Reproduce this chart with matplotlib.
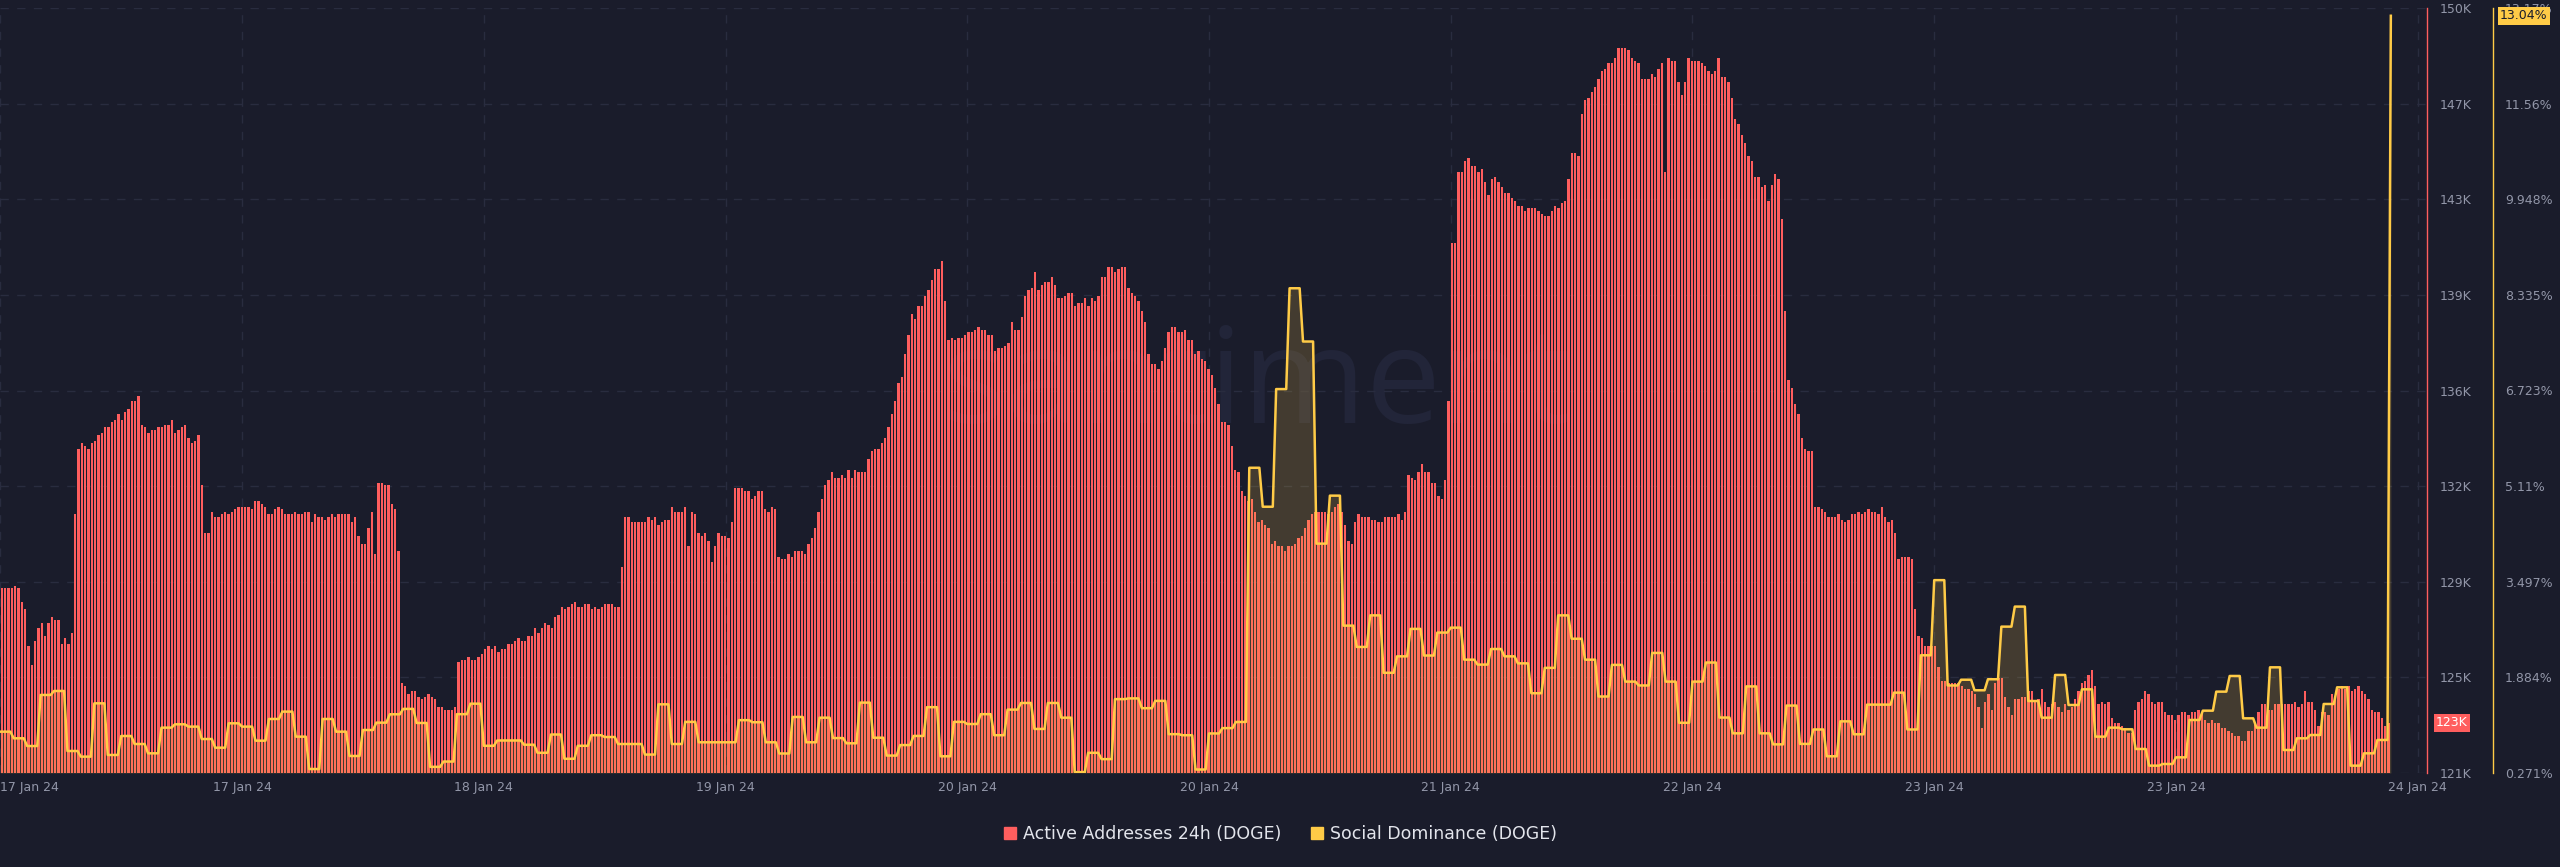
import matplotlib
matplotlib.use("Agg")
import matplotlib.pyplot as plt
import numpy as np
from matplotlib.lines import Line2D
from matplotlib.transforms import blended_transform_factory, ScaledTranslation

### colours ###
BG = "#1a1c2b"
RED = "#ff5e5e"
YELLOW = "#ffcb47"
GRID = "#292c3f"
TXT = "#9296a8"

### Active Addresses 24h (DOGE), thousands, one reading every ~15 min ###
aa_part1 = [128.0, 128.0, 128.0, 128.0, 128.1, 128.0, 127.5, 127.2, 125.8, 125.1,
            126.0, 126.5, 126.7, 126.2, 126.7, 126.9, 126.8, 126.8, 125.9, 126.1,
            125.9, 126.3, 130.8, 133.3, 133.5, 133.4, 133.3, 133.5, 133.6, 133.8,
            133.9, 134.1, 134.1, 134.3, 134.4, 134.6, 134.4, 134.7, 134.8, 135.1,
            135.1, 135.3, 134.2, 134.1, 133.9, 134.0, 134.0, 134.1, 134.1, 134.2,
            134.2, 134.4, 133.9, 134.0, 134.1, 134.2, 133.7, 133.5, 133.6, 133.8,
            131.9, 130.1, 130.1, 130.9, 130.7, 130.7, 130.8, 130.9, 130.8, 130.9,
            131.0, 131.1, 131.1, 131.1, 131.1, 131.0, 131.3, 131.3, 131.2, 131.1,
            130.8, 130.8, 131.0, 131.1, 131.0, 130.8, 130.8, 130.8, 130.9, 130.8,
            130.8, 130.9, 130.9, 130.5, 130.8, 130.7, 130.7, 130.6, 130.7, 130.8,
            130.7, 130.8, 130.8, 130.8, 130.8, 130.5, 130.7, 130.0, 129.7, 129.7,
            130.3, 130.9, 129.3, 132.0, 132.0, 131.9, 131.9, 131.2, 131.0, 129.4]
aa_part2 = [124.4, 124.3, 124.0, 124.1, 124.1, 123.9, 123.8, 123.9, 124.0, 123.9,
            123.8, 123.5, 123.5, 123.4, 123.4, 123.4, 123.5, 125.2, 125.3, 125.3,
            125.4, 125.3, 125.3, 125.4, 125.5, 125.7, 125.8, 125.7, 125.8, 125.6,
            125.7, 125.7, 125.9, 125.9, 126.0, 126.1, 126.0, 126.0, 126.2, 126.2,
            126.5, 126.3, 126.5, 126.7, 126.6, 126.5, 126.9, 127.0, 127.3, 127.2,
            127.3, 127.4, 127.5, 127.3, 127.3, 127.4, 127.4, 127.2, 127.3, 127.2,
            127.3, 127.4, 127.4, 127.4, 127.3, 127.3, 128.8, 130.7, 130.7, 130.5,
            130.5, 130.5, 130.5, 130.5, 130.7, 130.6, 130.7, 130.4, 130.5, 130.6,
            130.6, 131.1, 130.9, 130.9, 130.9, 131.1, 129.6, 130.9, 130.8, 130.1,
            130.0, 130.1, 129.8, 129.0, 129.6, 130.1, 130.0, 130.0, 129.9, 130.5,
            131.8, 131.8, 131.8, 131.7, 131.7, 131.4, 131.5, 131.7, 131.7, 131.0,
            130.9, 131.1, 131.0, 129.2, 129.1, 129.1, 129.3, 129.2, 129.4, 129.4]
aa_part3 = [129.4, 129.3, 129.7, 129.9, 130.3, 130.9, 131.4, 131.9, 132.1, 132.4,
            132.2, 132.2, 132.3, 132.2, 132.5, 132.2, 132.5, 132.4, 132.4, 132.4,
            132.9, 133.2, 133.3, 133.3, 133.5, 133.7, 134.1, 134.6, 135.1, 135.8,
            136.0, 136.9, 137.6, 138.4, 138.2, 138.7, 138.7, 139.1, 139.3, 139.7,
            140.1, 140.1, 140.4, 138.9, 137.4, 137.5, 137.4, 137.5, 137.5, 137.6,
            137.7, 137.7, 137.8, 137.9, 137.8, 137.8, 137.6, 137.6, 137.0, 137.1,
            137.1, 137.2, 137.3, 138.1, 137.8, 137.8, 138.3, 139.1, 139.3, 139.4,
            140.0, 139.3, 139.5, 139.6, 139.6, 139.8, 139.5, 139.0, 139.0, 139.1,
            139.2, 139.2, 138.7, 138.8, 138.8, 139.0, 138.7, 139.0, 138.9, 139.1,
            139.8, 139.8, 140.2, 140.2, 140.0, 140.1, 140.2, 140.2, 139.4, 139.2,
            139.1, 138.9, 138.5, 138.1, 136.9, 136.5, 136.5, 136.3, 136.6, 137.1,
            137.7, 137.9, 137.9, 137.7, 137.7, 137.8, 137.4, 137.4, 136.9, 137.0]
aa_part4 = [136.7, 136.6, 136.3, 136.1, 135.6, 135.0, 134.3, 134.3, 134.2, 133.4,
            132.5, 132.4, 131.7, 131.5, 131.3, 131.4, 130.9, 130.5, 130.6, 130.4,
            130.3, 129.7, 129.8, 129.6, 129.6, 129.4, 129.6, 129.6, 129.7, 129.9,
            130.0, 130.3, 130.6, 130.8, 130.9, 130.9, 130.9, 130.9, 130.8, 130.9,
            131.1, 131.2, 130.9, 130.4, 129.8, 129.7, 130.5, 130.8, 130.7, 130.7,
            130.7, 130.6, 130.6, 130.5, 130.5, 130.7, 130.7, 130.7, 130.7, 130.8,
            130.6, 130.9, 132.3, 132.2, 132.1, 132.4, 132.7, 132.4, 132.4, 132.0,
            132.0, 131.5, 131.4, 132.1, 135.1, 141.1, 141.1, 143.8, 143.8, 144.2,
            144.3, 144.0, 144.0, 143.8, 143.9, 143.4, 142.9, 143.5, 143.6, 143.4,
            143.2, 143.0, 143.0, 142.8, 142.7, 142.5, 142.5, 142.3, 142.4, 142.4,
            142.4, 142.3, 142.2, 142.1, 142.1, 142.3, 142.5, 142.4, 142.6, 142.7,
            143.5, 144.5, 144.5, 144.4, 146.0, 146.5, 146.6, 146.8, 147.0, 147.3]
aa_part5 = [147.6, 147.7, 147.9, 147.9, 148.1, 148.5, 148.5, 148.5, 148.4, 148.1,
            148.0, 147.9, 147.3, 147.3, 147.3, 147.5, 147.4, 147.7, 147.9, 143.8,
            148.1, 148.0, 148.0, 147.2, 146.7, 147.2, 148.1, 148.0, 148.0, 148.0,
            147.9, 147.8, 147.6, 147.5, 147.6, 148.1, 147.4, 147.4, 147.2, 146.6,
            145.8, 145.6, 145.2, 144.9, 144.4, 144.2, 143.6, 143.6, 143.2, 143.3,
            142.7, 143.3, 143.7, 143.5, 142.0, 138.5, 135.9, 135.6, 135.0, 134.6,
            133.7, 133.3, 133.2, 133.2, 131.1, 131.1, 131.0, 130.9, 130.7, 130.7,
            130.7, 130.8, 130.6, 130.5, 130.6, 130.8, 130.8, 130.9, 130.8, 130.9,
            131.0, 130.9, 130.9, 130.8, 131.1, 130.7, 130.5, 130.6, 130.1, 129.1,
            129.2, 129.2, 129.2, 129.1, 127.2, 126.2, 126.1, 125.8, 125.8, 125.8,
            125.8, 125.0, 124.5, 124.5, 124.4, 124.4, 124.4, 124.4, 124.3, 124.2,
            124.2, 124.1, 124.0, 123.5, 122.7, 123.7, 124.0, 123.4, 124.4, 124.6]
aa_part6 = [124.6, 123.9, 123.5, 123.2, 123.8, 123.8, 123.9, 123.9, 124.1, 124.1,
            123.7, 123.8, 124.2, 123.7, 123.5, 123.6, 123.7, 123.5, 123.3, 123.6,
            123.4, 123.5, 123.8, 124.1, 124.4, 124.5, 124.7, 124.9, 124.3, 123.6,
            123.7, 123.6, 123.7, 123.1, 122.9, 122.9, 122.8, 122.7, 122.5, 122.5,
            123.4, 123.7, 123.8, 124.1, 124.0, 123.7, 123.6, 123.7, 123.7, 123.3,
            123.2, 123.2, 123.0, 123.2, 123.3, 123.3, 123.2, 123.3, 123.3, 123.4,
            123.3, 123.0, 122.9, 123.0, 122.9, 122.9, 122.7, 122.7, 122.6, 122.5,
            122.4, 122.4, 122.2, 122.2, 122.6, 122.6, 122.9, 123.3, 123.6, 123.6,
            123.4, 123.4, 123.6, 123.6, 123.6, 123.6, 123.6, 123.6, 123.7, 123.5,
            123.6, 124.1, 123.7, 123.7, 123.4, 122.8, 123.3, 123.3, 123.2, 124.0,
            123.8, 124.2, 124.3, 124.2, 124.3, 124.1, 124.2, 124.3, 124.1, 124.0,
            123.8, 123.4, 123.3, 123.3, 123.1, 122.8, 122.9]

### Social Dominance (DOGE), %, hourly from 17 Jan 00:00 ###
social_dom = [
    0.968, 0.856, 0.726, 1.587, 1.654, 0.642, 0.547, 1.446, 0.575, 0.895,
    0.760, 0.603, 1.036, 1.092, 1.053, 0.844, 0.698, 1.109, 1.053, 0.816,
    1.182, 1.306, 0.884, 0.338, 1.182, 0.968, 0.558, 0.996, 1.120, 1.261,
    1.352, 1.115, 0.375, 0.464, 1.263, 1.440, 0.730, 0.819, 0.819, 0.748,
    0.612, 0.920, 0.511, 0.730, 0.908, 0.878, 0.760, 0.760, 0.582, 1.429,
    0.760, 1.133, 0.789, 0.789, 0.789, 1.162, 1.127, 0.789, 0.600, 1.216,
    0.789, 1.204, 0.860, 0.772, 1.458, 0.866, 0.565, 0.742, 0.896, 1.381,
    0.553, 1.133, 1.097, 1.263, 0.908, 1.340, 1.452, 1.014, 1.452, 1.204,
    0.286, 0.612, 0.505, 1.517, 1.529, 1.364, 1.487, 0.926, 0.908, 0.330,
    0.938, 1.028, 1.132, 5.418, 4.761, 6.745, 8.445, 7.547, 4.139, 4.948,
    2.756, 2.397, 2.929, 1.961, 2.238, 2.701, 2.252, 2.639, 2.722, 2.182,
    2.099, 2.362, 2.238, 2.120, 1.616, 2.044, 2.929, 2.535, 2.182,
    1.561, 2.094, 1.812, 1.747, 2.296, 1.812, 1.118, 1.812, 2.134, 1.206,
    0.940, 1.731, 0.940, 0.754, 1.408, 0.762, 1.005, 0.553, 1.142, 0.924,
    1.424, 1.424, 1.626, 1.005, 2.256, 3.523, 1.747, 1.844, 1.666, 1.852,
    2.739, 3.077, 1.485, 1.204, 1.924, 1.418, 1.682, 0.884, 1.036, 1.008,
    0.676, 0.395, 0.423, 0.535, 1.165, 1.322, 1.643, 1.907, 1.193, 1.036,
    2.053, 0.659, 0.856, 0.912, 1.435, 1.716, 0.395, 0.603, 0.828, 13.04,
]

### axes ###
x_ticks_h = [0, 18, 36, 54, 72, 90, 108, 126, 144, 162, 180]
x_tick_labels = ["17 Jan 24", "17 Jan 24", "18 Jan 24", "19 Jan 24", "20 Jan 24", "20 Jan 24",
                 "21 Jan 24", "22 Jan 24", "23 Jan 24", "23 Jan 24", "24 Jan 24"]
aa_tick_labels = ["121K", "125K", "129K", "132K", "136K", "139K", "143K", "147K", "150K"]
sd_tick_labels = ["0.271%", "1.884%", "3.497%", "5.11%", "6.723%", "8.335%", "9.948%", "11.56%", "13.17%"]
AA_MIN, AA_MAX = 121000, 150000
SD_MIN, SD_MAX = 0.271, 13.171
AA_STEP_H = 0.2482  # spacing of the active address readings, hours

W, H = 2560, 867
active_addr = np.array(aa_part1 + aa_part2 + aa_part3 + aa_part4 + aa_part5 + aa_part6) * 1000
t_aa = (np.arange(len(active_addr)) + 0.5) * AA_STEP_H

sd = np.array(social_dom)
hours = np.arange(len(sd))
# each hourly value is held for 3/4 of the hour, like the 15 min render
sd_x = np.append(np.column_stack([hours[:-1], hours[:-1] + 0.75]).ravel(), hours[-1])
sd_y = np.append(np.repeat(sd[:-1], 2), sd[-1])

fig = plt.figure(figsize=(W / 100, H / 100), dpi=100, facecolor=BG)
ax = fig.add_axes([0, 1 - 773 / H, 2427 / W, (773 - 8) / H])
ax.set_facecolor(BG)
ax2 = ax.twinx()

# watermark
ax.text(1256 / W, 1 - 423 / H, "santiment", transform=fig.transFigure, ha="center", va="baseline",
        fontsize=96, color="#222539", family="Open Sans", zorder=0.3)

ax.bar(t_aa, active_addr, width=AA_STEP_H * 0.72, color=RED, linewidth=0, zorder=2)
ax2.fill_between(sd_x, sd_y, SD_MIN, color=YELLOW, alpha=0.18, linewidth=0, zorder=1)
ax2.plot(sd_x, sd_y, color=YELLOW, lw=1.8, zorder=2)

x_left = -0.3 / 13.43
ax.set_xlim(x_left, x_left + 2427 / 13.43)
ax.set_ylim(AA_MIN, AA_MAX)
ax2.set_ylim(SD_MIN, SD_MAX)

ax.yaxis.tick_right()
ax.set_yticks(np.linspace(AA_MIN, AA_MAX, 9))
ax.set_yticklabels(aa_tick_labels)
ax2.set_yticks(np.linspace(SD_MIN, SD_MAX, 9))
ax2.set_yticklabels(sd_tick_labels)
ax.set_xticks(x_ticks_h)
ax.set_xticklabels(x_tick_labels)
first = ax.get_xticklabels()[0]
first.set_ha("left")
first.set_transform(first.get_transform() + ScaledTranslation(0.07, 0, fig.dpi_scale_trans))

ax.tick_params(axis="y", length=0, pad=9.4, labelsize=9, labelcolor=TXT)
ax2.tick_params(axis="y", length=0, pad=8.6, labelsize=9, labelcolor=TXT)
ax.tick_params(axis="x", length=0, pad=6, labelsize=9, labelcolor=TXT)

ax.set_axisbelow(True)
ax.grid(True, color=GRID, linestyle=(0, (6, 6)), linewidth=1)

for s in ["left", "top", "bottom"]:
    ax.spines[s].set_visible(False)
    ax2.spines[s].set_visible(False)
ax.spines["right"].set_color(RED)
ax.spines["right"].set_linewidth(1)
ax2.spines["right"].set_color(YELLOW)
ax2.spines["right"].set_linewidth(1)
ax2.spines["right"].set_position(("outward", 66 * 0.72))

# last value badges
blend1 = blended_transform_factory(fig.transFigure, ax.transData)
ax.text(2436 / W, active_addr[-1], f"{active_addr[-1] / 1000:.0f}K", transform=blend1,
        ha="left", va="center", fontsize=9, color="white", clip_on=False, zorder=6,
        bbox=dict(boxstyle="square,pad=0.2", fc=RED, ec="none"))
blend2 = blended_transform_factory(fig.transFigure, ax2.transData)
ax2.text(2500 / W, sd[-1], f"{sd[-1]:.2f}%", transform=blend2,
         ha="left", va="center", fontsize=9, color=BG, clip_on=False, zorder=6,
         bbox=dict(boxstyle="square,pad=0.2", fc=YELLOW, ec="none"))

handles = [Line2D([], [], marker="s", markersize=8, linestyle="none", color=RED),
           Line2D([], [], marker="s", markersize=8, linestyle="none", color=YELLOW)]
fig.legend(handles, ["Active Addresses 24h (DOGE)", "Social Dominance (DOGE)"],
           loc="center", bbox_to_anchor=(0.5, 1 - 834 / H), ncol=2, frameon=False,
           fontsize=12.5, labelcolor="#e3e5ec", handlelength=0.8, handletextpad=0.4,
           columnspacing=1.6)

fig.savefig("out.png", dpi=100, facecolor=BG)
